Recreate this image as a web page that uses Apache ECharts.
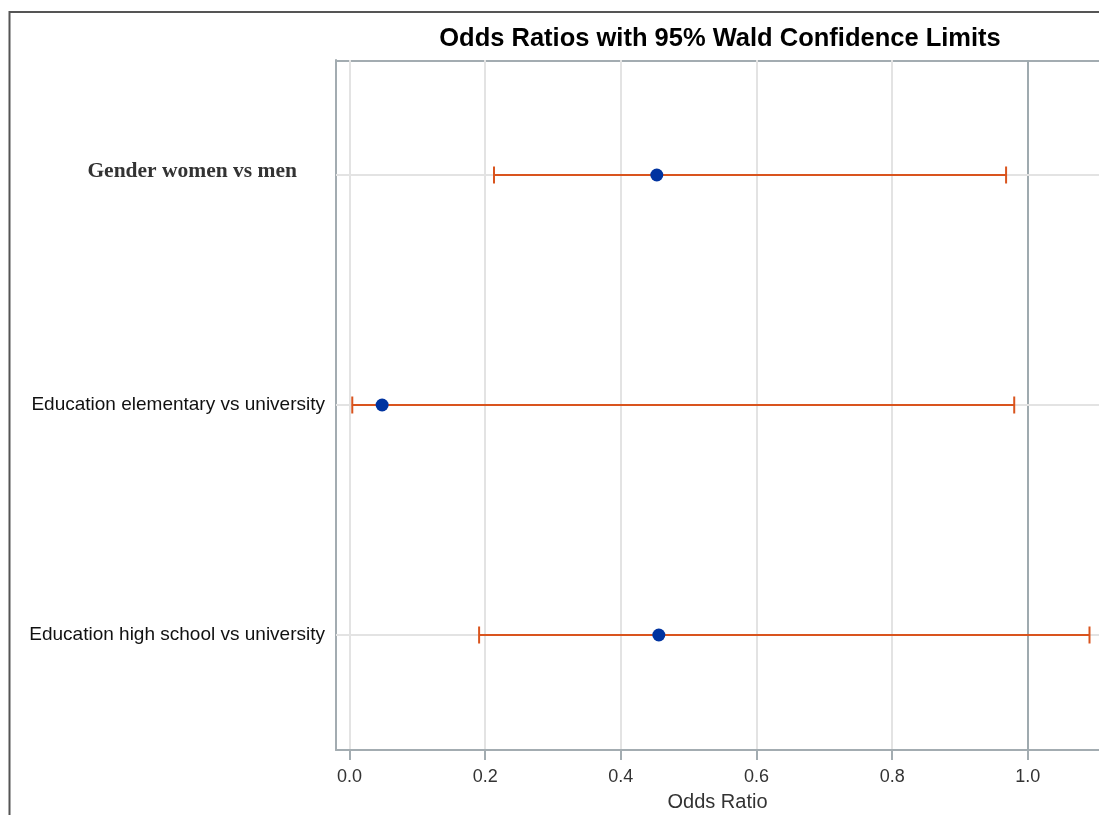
<!DOCTYPE html>
<html>
<head>
<meta charset="utf-8">
<script src="https://cdn.jsdelivr.net/npm/echarts@6/dist/echarts.min.js"></script>
<style>html,body{margin:0;padding:0;background:#fff;}#c{width:1099px;height:815px;}</style>
</head>
<body>
<div id="c"></div>
<script>
var categories = ['Gender women vs men', 'Education elementary vs university', 'Education high school vs university'];
var oddsRatio = [0.453, 0.048, 0.456];
var lowerCL = [0.213, 0.004, 0.191];
var upperCL = [0.968, 0.980, 1.091];
var xTickLabels = ['0.0', '0.2', '0.4', '0.6', '0.8', '1.0'];

var chart = echarts.init(document.getElementById('c'));
var frameGray = '#a3acb1';
var ciData = categories.map(function (c, i) { return [i, lowerCL[i], upperCL[i]]; });
var ptData = categories.map(function (c, i) { return [oddsRatio[i], i]; });

chart.setOption({
  backgroundColor: '#fff',
  animation: false,
  title: {
    text: 'Odds Ratios with 95% Wald Confidence Limits',
    left: 715, top: 21, textAlign: 'center',
    textStyle: { fontFamily: 'Liberation Sans', fontWeight: 'bold', fontSize: 25.5, color: '#000' }
  },
  graphic: [{
    type: 'rect', silent: true,
    shape: { x: 9.5, y: 12, width: 1200, height: 900 },
    style: { fill: 'none', stroke: '#555', lineWidth: 2 }
  }, {
    type: 'line', silent: true,
    shape: { x1: 336, y1: 61, x2: 1099, y2: 61 },
    style: { stroke: frameGray, lineWidth: 2 }
  }],
  grid: { left: 336, top: 60, right: 0, bottom: 65, show: false, containLabel: false, outerBoundsMode: 'none' },
  xAxis: {
    type: 'value', min: -0.02, max: 1.105,
    name: 'Odds Ratio', nameLocation: 'middle', nameGap: 42,
    nameTextStyle: { fontFamily: 'Liberation Sans', fontSize: 20, color: '#333' },
    axisLine: { show: true, onZero: false, lineStyle: { color: frameGray, width: 2 } },
    axisTick: { show: true, length: 10, lineStyle: { color: frameGray, width: 2 } },
    axisLabel: {
      showMinLabel: false, showMaxLabel: false, margin: 18,
      fontFamily: 'Liberation Sans', fontSize: 18, color: '#333',
      formatter: function (v) {
        var s = v.toFixed(1);
        return xTickLabels.indexOf(s) >= 0 ? s : '';
      }
    },
    splitLine: { show: true, showMinLine: false, showMaxLine: false, lineStyle: { color: '#e3e3e3', width: 2 } }
  },
  yAxis: {
    type: 'category', data: categories, inverse: true, boundaryGap: true,
    axisLine: { show: true, onZero: false, lineStyle: { color: frameGray, width: 2 } },
    axisTick: { show: false },
    splitLine: { show: false },
    axisLabel: {
      margin: 11,
      formatter: function (v, i) {
        return i === 0 ? '{g|' + v + '}' : '{s|' + v + '}';
      },
      rich: {
        g: { fontFamily: 'Liberation Serif', fontWeight: 'bold', fontSize: 21.5, color: '#333', padding: [0, 28, 8, 0] },
        s: { fontFamily: 'Liberation Sans', fontSize: 19, color: '#111' }
      }
    }
  },
  series: [
    {
      type: 'custom',
      data: ciData,
      z: 3,
      renderItem: function (params, api) {
        var cat = api.value(0);
        var lo = api.coord([api.value(1), cat]);
        var hi = api.coord([api.value(2), cat]);
        var cs = params.coordSys;
        var cap = 8.5;
        var col = '#d9541e';
        return {
          type: 'group',
          children: [
            { type: 'line', shape: { x1: cs.x, y1: lo[1], x2: cs.x + cs.width, y2: lo[1] }, style: { stroke: '#e3e3e3', lineWidth: 2 } },
            { type: 'line', shape: { x1: lo[0], y1: lo[1], x2: hi[0], y2: hi[1] }, style: { stroke: col, lineWidth: 2 } },
            { type: 'line', shape: { x1: lo[0], y1: lo[1] - cap, x2: lo[0], y2: lo[1] + cap }, style: { stroke: col, lineWidth: 2 } },
            { type: 'line', shape: { x1: hi[0], y1: hi[1] - cap, x2: hi[0], y2: hi[1] + cap }, style: { stroke: col, lineWidth: 2 } }
          ]
        };
      }
    },
    {
      type: 'scatter',
      data: ptData,
      symbol: 'circle', symbolSize: 13,
      z: 5,
      itemStyle: { color: '#0033a0', opacity: 1 },
      markLine: {
        silent: true, symbol: 'none', label: { show: false },
        lineStyle: { color: '#9faaaf', width: 2, type: 'solid' },
        data: [{ xAxis: 1.0 }],
        z: 2
      }
    }
  ]
});
</script>
</body>
</html>
